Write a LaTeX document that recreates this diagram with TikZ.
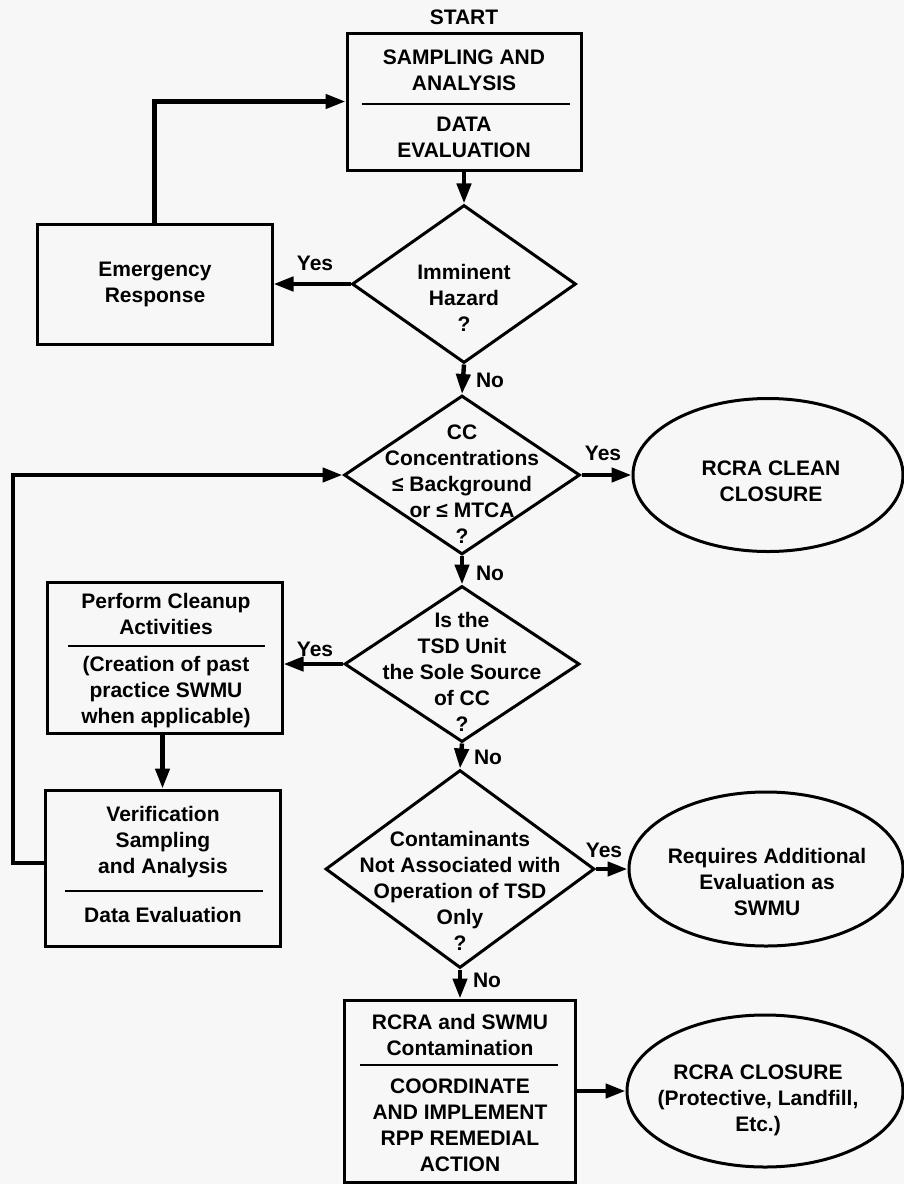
\documentclass[tikz,border=0pt]{standalone}
\usepackage{fontspec}
\setmainfont{Liberation Sans}
\usetikzlibrary{arrows.meta, shapes.geometric, positioning}
\definecolor{paper}{RGB}{247,247,247}
\tikzstyle{box} = [draw=black, line width=1.5pt, inner sep=0pt]
\tikzstyle{decision} = [diamond, draw=black, line width=1.5pt, inner sep=0pt]
\tikzstyle{terminal} = [ellipse, draw=black, line width=1.5pt, inner sep=0pt]
\tikzstyle{txt} = [align=center, inner sep=0pt]
\tikzstyle{divider} = [line width=1pt]
\tikzstyle{flow} = [line width=2.2pt, -{Triangle[length=10pt,width=7pt]}]

\begin{document}
\begin{tikzpicture}[x=0.5pt, y=-0.5pt, font=\fontsize{10.5}{13}\selectfont\bfseries]
				\fill [paper] (0,0) rectangle (904,1184);
				\useasboundingbox (0,0) rectangle (904,1184);

				\node (Start) [txt] at (464,17) {START};

				% sampling and analysis
				\node (Sampling) [box, minimum width=117pt, minimum height=68.5pt] at (464,101.5) {};
				\node (SamplingTop) [txt] at (464,70) {SAMPLING AND\\ANALYSIS};
				\draw [divider] (362,104) -- (570,104);
				\node (SamplingBot) [txt] at (464,137) {DATA\\EVALUATION};

				% imminent hazard
				\node (Hazard) [decision, minimum width=112pt, minimum height=79pt] at (464,284) {};
				\node (HazardText) [txt] at (464,298) {Imminent\\Hazard\\?};
				\draw [flow] (Sampling) -- (Hazard);

				\node (Emergency) [box, minimum width=117.5pt, minimum height=60pt] at (154.5,284) {};
				\node (EmergencyText) [txt] at (155,284) {Emergency\\Response};
				\draw [flow] (Hazard) -- (Emergency);
				\node (HazardYes) [txt] at (315,263) {Yes};

				\coordinate (BackTop) at (154.5,101.5);
				\draw [flow] (Emergency.north) -- (BackTop) -- (Sampling.west);

				% concentrations
				\node (Clean) [decision, minimum width=118pt, minimum height=79.5pt] at (462,475) {};
				\node (CleanText) [txt] at (462,484) {CC\\Concentrations\\≤ Background\\or ≤ MTCA\\?};
				\draw [flow] (Hazard.south) -- (Clean.north);
				\node (HazardNo) [txt] at (490,380) {No};

				\node (CleanClosure) [terminal, minimum width=135pt, minimum height=76.5pt] at (768,475) {};
				\node (CleanClosureText) [txt] at (771,481) {RCRA CLEAN\\CLOSURE};
				\draw [flow] (Clean.east) -- (CleanClosure.west);
				\node (CleanYes) [txt] at (603,453) {Yes};

				% sole source
				\node (Sole) [decision, minimum width=117.5pt, minimum height=78pt] at (462,664) {};
				\node (SoleText) [txt] at (462,672) {Is the\\TSD Unit\\the Sole Source\\of CC\\?};
				\draw [flow] (Clean.south) -- (Sole.north);
				\node (CleanNo) [txt] at (490,573) {No};

				\node (Cleanup) [box, minimum width=117.5pt, minimum height=75.5pt] at (164.5,657.5) {};
				\node (CleanupTop) [txt] at (166,614) {Perform Cleanup\\Activities};
				\draw [divider] (68,646) -- (265,646);
				\node (CleanupBot) [txt] at (166,692) {(Creation of past\\practice SWMU\\when applicable)};
				\draw [flow] (Sole.west) -- (Cleanup.east |- Sole.west);
				\node (SoleYes) [txt] at (315,649) {Yes};

				% verification
				\node (Verification) [box, minimum width=117.5pt, minimum height=78pt] at (162.5,868) {};
				\node (VerificationTop) [txt] at (163,842) {Verification\\Sampling\\and Analysis};
				\draw [divider] (65,891) -- (263,891);
				\node (VerificationBot) [txt] at (163,915) {Data Evaluation};
				\draw [flow] (Cleanup.south -| Verification.north) -- (Verification.north);

				\coordinate (LoopBottom) at (13,863);
				\coordinate (LoopTop) at (13,475);
				\draw [flow] (Verification.west |- LoopBottom) -- (LoopBottom) -- (LoopTop) -- (Clean.west);

				% contaminants not associated
				\node (Assoc) [decision, minimum width=134.5pt, minimum height=99pt] at (460,869) {};
				\node (AssocText) [txt] at (460,891) {Contaminants\\Not Associated with\\Operation of TSD\\Only\\?};
				\draw [flow] (Sole.south) -- (Assoc.north);
				\node (SoleNo) [txt] at (488,757) {No};

				\node (Additional) [terminal, minimum width=137pt, minimum height=77pt] at (766,869) {};
				\node (AdditionalText) [txt] at (767,882) {Requires Additional\\Evaluation as\\SWMU};
				\draw [flow] (Assoc.east) -- (Additional.west);
				\node (AssocYes) [txt] at (604,850) {Yes};

				% remedial action
				\node (Remedial) [box, minimum width=115.5pt, minimum height=91pt] at (460,1091) {};
				\node (RemedialTop) [txt] at (460,1035) {RCRA and SWMU\\Contamination};
				\draw [divider] (360,1065) -- (558,1065);
				\node (RemedialBot) [txt] at (460,1125) {COORDINATE\\AND IMPLEMENT\\RPP REMEDIAL\\ACTION};
				\draw [flow] (Assoc.south) -- (Remedial.north);
				\node (AssocNo) [txt] at (487,980) {No};

				\node (Closure) [terminal, minimum width=138pt, minimum height=76pt] at (765,1091) {};
				\node (ClosureText) [txt] at (758,1100) {RCRA CLOSURE\\(Protective, Landfill,\\Etc.)};
				\draw [flow] (Remedial.east) -- (Closure.west);
\end{tikzpicture}
\end{document}
